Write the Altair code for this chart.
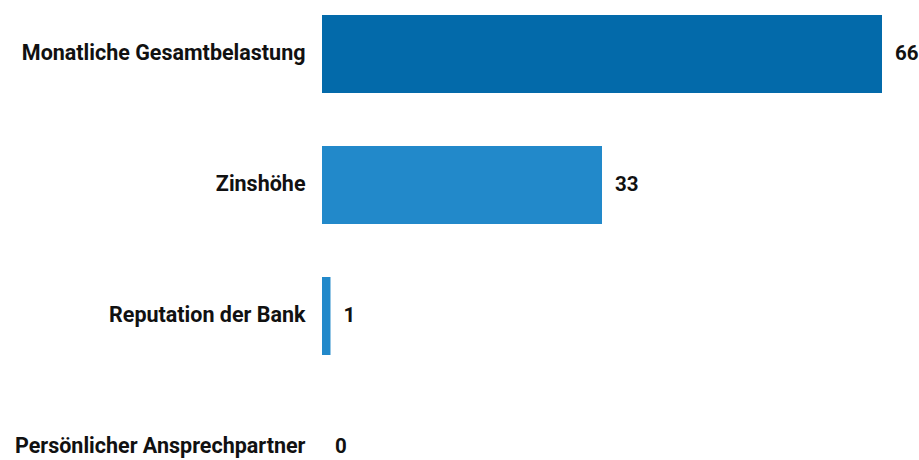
import altair as alt
import pandas as pd

categories = ["Monatliche Gesamtbelastung", "Zinshöhe", "Reputation der Bank", "Persönlicher Ansprechpartner"]
values = [66, 33, 1, 0]
bar_colors = ["#036aaa", "#2289ca", "#2289ca", "#2289ca"]

df = pd.DataFrame({"category": categories, "value": values})

FONT = "Roboto"

y_enc = alt.Y(
    "category:N",
    sort=None,
    scale=alt.Scale(range=[0, 501], paddingInner=0.405, paddingOuter=0.1145),
    axis=alt.Axis(
        title=None, domain=False, ticks=False, grid=False,
        labelFont=FONT, labelFontSize=21.5, labelFontWeight="bold",
        labelColor="#111111", labelPadding=17, labelLimit=500,
    ),
)
x_enc = alt.X(
    "value:Q",
    scale=alt.Scale(domain=[0, 66], range=[0, 560], nice=False),
    axis=None,
)

bars = alt.Chart(df).mark_bar(size=78).encode(
    y=y_enc,
    x=x_enc,
    color=alt.Color("category:N", sort=None,
                    scale=alt.Scale(domain=categories, range=bar_colors), legend=None),
)

labels = alt.Chart(df).mark_text(
    align="left", baseline="middle", dx=13,
    font=FONT, fontSize=20.5, fontWeight="bold", color="#111111",
).encode(
    y=alt.Y("category:N", sort=None),
    x=alt.X("value:Q"),
    text=alt.Text("value:Q"),
)

chart = alt.layer(bars, labels).properties(
    width=597, height=460,
    padding={"left": 322, "top": 0, "right": 0, "bottom": 0},
    autosize=alt.AutoSizeParams(type="none"),
).configure(background="white").configure_view(stroke=None, strokeWidth=0)

chart.save("out.html", embed_options={"renderer": "svg", "actions": False})
